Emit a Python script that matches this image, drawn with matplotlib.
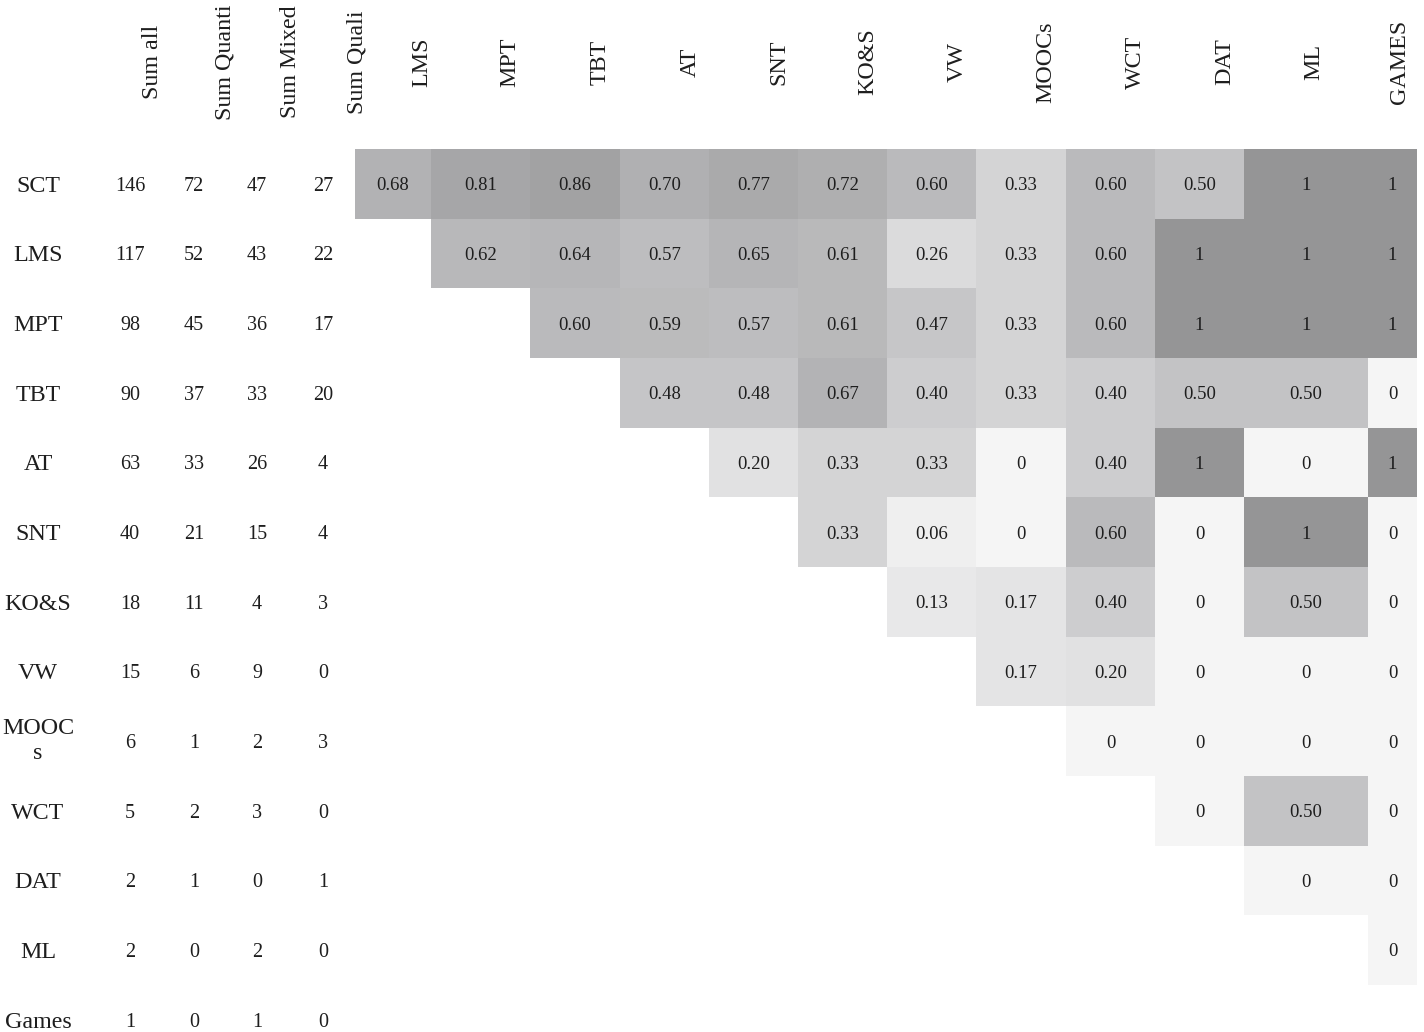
import numpy as np
import matplotlib.pyplot as plt
from matplotlib.colors import LinearSegmentedColormap

plt.rcParams['font.family'] = ['Liberation Serif', 'DejaVu Serif']

# rows of the table
row_labels = ['SCT', 'LMS', 'MPT', 'TBT', 'AT', 'SNT', 'KO&S', 'VW',
              'MOOC\ns', 'WCT', 'DAT', 'ML', 'Games']
sum_headers = ['Sum all', 'Sum Quanti', 'Sum Mixed', 'Sum Quali']
sum_all = [146, 117, 98, 90, 63, 40, 18, 15, 6, 5, 2, 2, 1]
sum_quanti = [72, 52, 45, 37, 33, 21, 11, 6, 1, 2, 1, 0, 0]
sum_mixed = [47, 43, 36, 33, 26, 15, 4, 9, 2, 3, 0, 2, 1]
sum_quali = [27, 22, 17, 20, 4, 4, 3, 0, 3, 0, 1, 0, 0]

# heatmap columns
col_labels = ['LMS', 'MPT', 'TBT', 'AT', 'SNT', 'KO&S', 'VW', 'MOOCs',
              'WCT', 'DAT', 'ML', 'GAMES']

# upper triangle values, row i starts at column i
r_sct = [0.68, 0.81, 0.86, 0.70, 0.77, 0.72, 0.60, 0.33, 0.60, 0.50, 1, 1]
r_lms = [0.62, 0.64, 0.57, 0.65, 0.61, 0.26, 0.33, 0.60, 1, 1, 1]
r_mpt = [0.60, 0.59, 0.57, 0.61, 0.47, 0.33, 0.60, 1, 1, 1]
r_tbt = [0.48, 0.48, 0.67, 0.40, 0.33, 0.40, 0.50, 0.50, 0]
r_at = [0.20, 0.33, 0.33, 0, 0.40, 1, 0, 1]
r_snt = [0.33, 0.06, 0, 0.60, 0, 1, 0]
r_kos = [0.13, 0.17, 0.40, 0, 0.50, 0]
r_vw = [0.17, 0.20, 0, 0, 0]
r_moocs = [0, 0, 0, 0]
r_wct = [0, 0.50, 0]
r_dat = [0, 0]
r_ml = [0]
tri_rows = [r_sct, r_lms, r_mpt, r_tbt, r_at, r_snt, r_kos, r_vw,
            r_moocs, r_wct, r_dat, r_ml]

# layout (pixels)
W, H = 1424, 1032
x_edges = np.array([355, 431, 530, 620, 709, 798, 887, 976, 1066, 1155,
                    1244, 1368, 1417])
y_edges = 149 + 69.65 * np.arange(14)
y_cent = (y_edges[:-1] + y_edges[1:]) / 2
x_cent = (x_edges[:-1] + x_edges[1:]) / 2
head_x = [422, 510, 600, 690, 779, 868, 957, 1046, 1135, 1225, 1314, 1400]
sum_x = [130, 194, 257, 323]
sum_head_x = [152, 225, 291, 357]

nc = len(col_labels)
M = np.full((len(row_labels), nc), np.nan)
for i, vals in enumerate(tri_rows):
    M[i, i:i + len(vals)] = vals
M = np.ma.masked_invalid(M)

cmap = LinearSegmentedColormap.from_list(
    'grays', ['#f5f5f5', '#c3c3c5', '#959596'])

fig = plt.figure(figsize=(W / 100, H / 100), dpi=100)
ax = fig.add_axes([0, 0, 1, 1])
ax.set_xlim(0, W)
ax.set_ylim(H, 0)
ax.axis('off')

ax.pcolormesh(x_edges, y_edges, M, cmap=cmap, vmin=0, vmax=1,
              linewidth=0, antialiased=False)

for i, vals in enumerate(tri_rows):
    for k, v in enumerate(vals):
        j = i + k
        s = '%d' % v if v in (0, 1) else '%.2f' % v
        ax.text(x_cent[j], y_cent[i], s, ha='center', va='center_baseline',
                fontsize=13.5, color='#1e1e1e')

for j, lab in enumerate(col_labels):
    ax.text(head_x[j], 62, lab, rotation=90, ha='center', va='center',
            fontsize=17.3, color='#1e1e1e')
for j, lab in enumerate(sum_headers):
    ax.text(sum_head_x[j], 62, lab, rotation=90, ha='center', va='center',
            fontsize=17.3, color='#1e1e1e')

sums = [sum_all, sum_quanti, sum_mixed, sum_quali]
for i, lab in enumerate(row_labels):
    ax.text(38, y_cent[i], lab, ha='center',
            va='center' if '\n' in lab else 'center_baseline',
            fontsize=17.3, color='#1e1e1e', linespacing=1.2)
    for c, col in enumerate(sums):
        ax.text(sum_x[c], y_cent[i], str(col[i]), ha='center',
                va='center_baseline', fontsize=14.5, color='#1e1e1e')

fig.savefig('out.png', dpi=100, facecolor='white')
